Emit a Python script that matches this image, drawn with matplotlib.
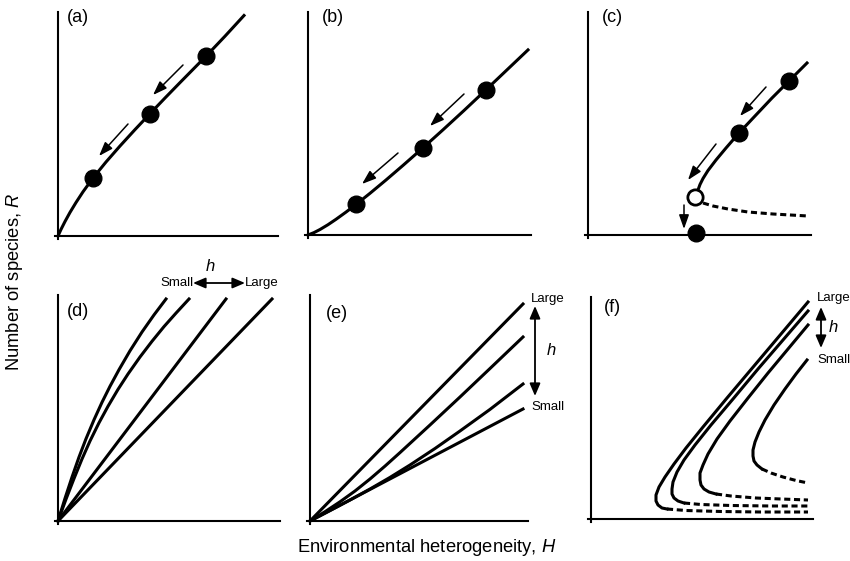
import numpy as np
import matplotlib.pyplot as plt

plt.rcParams.update({"font.family": ["Liberation Sans", "DejaVu Sans"],
                     "mathtext.fontset": "custom",
                     "mathtext.it": "Liberation Sans:italic",
                     "mathtext.rm": "Liberation Sans"})

# ===== DATA (schematic, units) =====
# (a) concave curve with three stable points
a_H = [0, 3, 7, 12, 18, 25, 35, 48, 62, 77, 92, 107, 122, 135, 148, 167, 186]
a_R = [0, 6.6, 14.5, 23.6, 33.5, 44.2, 58, 74, 90, 106.4, 122.3, 138, 153.4,
       166.6, 179.8, 199.8, 220.5]
a_dot_H = [35, 92, 148]
a_dot_R = [58, 122, 180]
a_arrows = [((125, 171), (95, 141)), ((70, 112), (41, 80))]

# (b) convex curve
b_H = [0, 6, 12, 20, 28, 38, 48, 62, 78, 95, 115, 135, 156, 178, 200, 220]
b_R = [0, 2.4, 5.5, 10.3, 15.7, 22.9, 30.5, 41.7, 55.0, 69.6, 87.2, 105.2,
       124.5, 145.2, 166.1, 185.1]
b_dot_H = [48, 115, 178]
b_dot_R = [31, 87, 145]
b_arrows = [((156, 141), (122, 109)), ((90, 82), (54, 51))]

# (c) fold: stable branch, unstable branch, collapse to zero
c_H = [219, 201, 184, 167, 151, 138, 128, 120, 115, 112, 110, 109.3]
c_R = [172, 154, 137, 119, 102, 87, 75, 64.5, 56.5, 50.5, 45, 41.5]
c_unst_H = [115, 125, 140, 160, 185, 220]
c_unst_R = [32, 29, 26, 23, 21, 19]
c_dot_H = [201, 151, 108]
c_dot_R = [154, 102, 2]
c_open = (107, 38)
c_arrows = [((178, 148), (152, 119)), ((128, 91), (100, 55)), ((96, 30), (96, 6))]

# (d) h from small to large
d_lines = [([0, 7, 14, 21, 28, 36, 44, 52, 61, 72, 84, 96, 108],
            [0, 22.6, 43.9, 63.9, 82.2, 101.2, 118.7, 134.7, 151.3, 170.2, 189.0, 206.1, 222]),
           ([0, 8, 16, 24, 32, 41, 50, 60, 70, 82, 94, 106, 118, 131],
            [0, 21.8, 42.4, 62.0, 80.0, 98.2, 114.7, 131.6, 147.0, 164.0, 179.7, 194.4, 207.9, 222]),
           ([0, 168], [0, 222]),
           ([0, 214], [0, 222])]

# (e) h from large to small
e_lines = [([0, 213], [0, 217]),
           ([0, 15, 30, 45, 60, 75, 90, 120, 150, 180, 213],
            [0, 9.3, 19.2, 30, 42, 54.9, 68.4, 96, 124, 152.5, 184]),
           ([0, 20, 40, 60, 80, 100, 125, 150, 180, 213],
            [0, 10.4, 21, 32, 43.6, 56, 72.5, 90, 111.6, 137]),
           ([0, 213], [0, 112])]

# (f) folded curves, solid = stable, dashed = unstable
f_solid = [([217, 190, 163, 136, 112, 95, 83, 74, 68, 65, 65, 67, 71, 76],
            [217, 185, 153, 121, 92, 71, 55, 42, 32, 24, 18, 14, 11, 10]),
           ([217, 192, 167, 142, 120, 104, 93, 86, 82, 81, 81, 83, 87, 93],
            [208, 179, 150, 120, 94, 74, 59, 47, 37, 30, 25, 21, 18, 16]),
           ([217, 197, 177, 157, 139, 126, 117, 112, 109, 109, 110, 113, 118, 125],
            [194, 170, 146, 121, 98, 80, 65, 54, 46, 39, 34, 30, 27, 25]),
           ([216, 205, 194, 183, 174, 168, 164, 162, 162, 163, 166, 171],
            [159, 145, 130, 114, 99, 87, 77, 69, 63, 58, 54, 50])]
f_dash = [([76, 95, 130, 170, 217], [10, 8.5, 7.5, 7, 7]),
          ([93, 110, 140, 180, 217], [16, 14.5, 13.5, 13, 13]),
          ([125, 140, 165, 190, 217], [25, 23, 21, 20, 19]),
          ([171, 180, 192, 205, 217], [50, 46, 42, 38.5, 36])]

# ===== LAYOUT =====
FW, FH = 850, 561
fig = plt.figure(figsize=(FW / 100, FH / 100), dpi=100)
LW = 2.2
ARW = dict(arrowstyle="-|>,head_length=0.85,head_width=0.3", lw=1.1, color="k",
           shrinkA=0, shrinkB=0)
DBL = dict(arrowstyle="<|-|>,head_length=0.75,head_width=0.32", lw=1.3, color="k",
           shrinkA=0, shrinkB=0)


def panel(x0, y0, W, Hh, lab, lab_xy):
    ax = fig.add_axes([(x0 - 3) / FW, (FH - y0 - 3) / FH, (W + 3) / FW, (Hh + 3) / FH])
    ax.set_xlim(-3, W); ax.set_ylim(-3, Hh)
    for s in ["top", "right"]:
        ax.spines[s].set_visible(False)
    for s in ["left", "bottom"]:
        ax.spines[s].set_position(("data", 0))
        ax.spines[s].set_linewidth(1.5)
    ax.set_xticks([]); ax.set_yticks([])
    ax.patch.set_alpha(0)
    ax.text(*lab_xy, lab, fontsize=13, ha="center", va="center")
    return ax


def arrows(ax, lst):
    for tail, head in lst:
        ax.annotate("", xy=head, xytext=tail, arrowprops=ARW)


def curve(ax, h, r, **kw):
    ax.plot(h, r, color="k", lw=LW, solid_joinstyle="round", **kw)


ax = panel(58, 236, 220, 224, "(a)", (20, 219))
curve(ax, a_H, a_R)
ax.plot(a_dot_H, a_dot_R, "o", color="k", ms=12, clip_on=False)
arrows(ax, a_arrows)

ax = panel(308, 235, 223, 223, "(b)", (25, 218))
curve(ax, b_H, b_R)
ax.plot(b_dot_H, b_dot_R, "o", color="k", ms=12, clip_on=False)
arrows(ax, b_arrows)

ax = panel(588, 235, 223, 223, "(c)", (24, 217))
curve(ax, c_H, c_R)
curve(ax, c_unst_H, c_unst_R, dashes=(2.0, 1.2))
ax.plot(c_dot_H, c_dot_R, "o", color="k", ms=12, clip_on=False, zorder=4)
ax.plot(*c_open, "o", mfc="white", mec="k", mew=2, ms=11, zorder=5)
arrows(ax, c_arrows)

ax = panel(58, 521, 222, 226, "(d)", (20, 210))
for h, r in d_lines:
    curve(ax, h, r)
ax.text(119, 238, "Small", fontsize=9.5, ha="center", va="center")
ax.text(204, 238, "Large", fontsize=9.5, ha="center", va="center")
ax.annotate("", xy=(187, 238), xytext=(135, 238), arrowprops=DBL, annotation_clip=False)
ax.text(152, 255, "$h$", fontsize=12, ha="center", va="center")

ax = panel(310, 521, 218, 226, "(e)", (27, 208))
for h, r in e_lines:
    curve(ax, h, r)
ax.text(238, 222, "Large", fontsize=9.5, ha="center", va="center")
ax.text(238, 114, "Small", fontsize=9.5, ha="center", va="center")
ax.annotate("", xy=(225, 215), xytext=(225, 125), arrowprops=DBL, annotation_clip=False)
ax.text(241, 171, "$h$", fontsize=12, ha="center", va="center")

ax = panel(591, 519, 222, 222, "(f)", (21, 212))
for (h, r), (hd, rd) in zip(f_solid, f_dash):
    curve(ax, h, r)
    curve(ax, hd, rd, dashes=(2.0, 1.2))
ax.text(226, 221, "Large", fontsize=9.5, ha="left", va="center")
ax.text(226, 159, "Small", fontsize=9.5, ha="left", va="center")
ax.annotate("", xy=(230, 212), xytext=(230, 171), arrowprops=DBL, annotation_clip=False)
ax.text(242, 192, "$h$", fontsize=12, ha="center", va="center")

fig.text(15 / FW, 1 - 282 / FH, "Number of species, $R$", rotation=90,
         fontsize=13.2, ha="center", va="center")
fig.text(427 / FW, 1 - 547 / FH, "Environmental heterogeneity, $H$",
         fontsize=13.2, ha="center", va="center")

fig.savefig("out.png", dpi=100)
